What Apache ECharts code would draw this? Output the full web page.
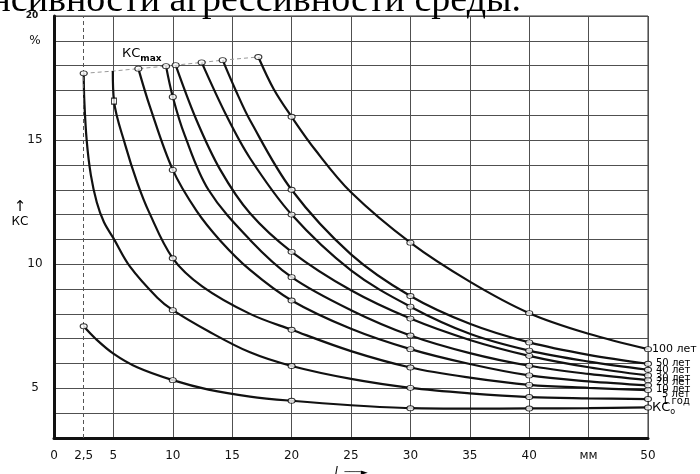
<!DOCTYPE html>
<html><head><meta charset="utf-8">
<script src="https://cdn.jsdelivr.net/npm/echarts@6/dist/echarts.min.js"></script>
<style>html,body{margin:0;padding:0;background:#fff;overflow:hidden}#c{width:700px;height:474px}</style>
</head><body><div id="c"></div>
<script>
// ---- tick labels ----
const xTickValues = [0, 2.5, 5, 10, 15, 20, 25, 30, 35, 40, 45, 50];
const xTickTexts  = ['0', '2,5', '5', '10', '15', '20', '25', '30', '35', '40', 'мм', '50'];
const yTickValues = [5, 10, 15, 19, 20];
const yTickTexts  = ['5', '10', '15', '%', '20'];

// ---- curves: [l (mm), KC (%)] ----
const cKC0 = [[2.5,7.5],[3.5,7.0],[5,6.4],[7,5.85],[10,5.33],[13,4.95],[16.5,4.67],[20,4.5],[25,4.32],[30,4.2],[35,4.18],[40,4.19],[45,4.2],[50,4.23]];
const c1   = [[2.5,17.69],[2.55,16.6],[2.75,15.0],[3.1,13.6],[3.6,12.5],[4.2,11.7],[5,11.05],[6.4,9.9],[8.7,8.65],[10,8.15],[13,7.3],[16.5,6.45],[20,5.9],[25,5.38],[30,5.02],[35,4.8],[40,4.65],[45,4.6],[50,4.57]];
const c5   = [[4.95,17.78],[5.05,16.57],[6,14.8],[7,13.3],[8,12.1],[10,10.24],[12.5,9.1],[16.5,8.0],[20,7.36],[25,6.5],[30,5.84],[35,5.43],[40,5.14],[45,5.02],[50,4.93]];
const c10  = [[7.1,17.88],[8.08,16.34],[10,13.8],[12,12.15],[14,10.95],[16.5,9.77],[20,8.54],[25,7.4],[30,6.58],[35,5.98],[40,5.52],[45,5.28],[50,5.12]];
const c20  = [[9.43,17.98],[10,16.74],[11,15.2],[13,13.0],[16.5,10.98],[20,9.48],[25,8.15],[30,7.13],[35,6.42],[40,5.91],[45,5.58],[50,5.33]];
const c30  = [[10.24,18.02],[12,15.8],[14,13.8],[16.5,12.05],[20,10.5],[25,8.95],[30,7.81],[35,6.95],[40,6.31],[45,5.85],[50,5.52]];
const c40  = [[12.43,18.13],[14.5,16.0],[16.5,14.27],[20,12.0],[25,9.75],[30,8.29],[35,7.2],[40,6.52],[45,6.08],[50,5.75]];
const c50  = [[14.2,18.22],[15.3,17.0],[16.5,15.8],[20,13.0],[25,10.4],[30,8.72],[35,7.6],[40,6.85],[45,6.35],[50,5.99]];
const c100 = [[17.2,18.35],[18.5,17.05],[20,15.94],[22,14.6],[25,12.9],[30,10.87],[35,9.3],[40,8.03],[45,7.2],[50,6.58]];

// ---- x positions of marked points on each curve ----
const mKC0 = [2.5,10,20,30,40,50];
const m1   = [2.5,10,20,30,40,50];
const m5   = [10,20,30,40,50];
const m10  = [7.1,10,20,30,40,50];
const m20  = [9.43,10,20,30,40,50];
const m30  = [10.24,20,30,40,50];
const m40  = [12.43,20,30,40,50];
const m50  = [14.2,20,30,40,50];
const m100 = [17.2,20,30,40,50];
const squareX5 = 5.05;

const curveNames = ['КС0', '1 год', '5 лет', '10 лет', '20 лет', '30 лет', '40 лет', '50 лет', '100 лет'];
const curves = [cKC0, c1, c5, c10, c20, c30, c40, c50, c100];
const marks  = [mKC0, m1, m5, m10, m20, m30, m40, m50, m100];

// layout of end labels (not data)
const labelLayout = [
  {d: 4, dy: 2}, {d: 14, dy: 2}, {d: 14, dy: 4}, {d: 8, dy: 4}, {d: 8, dy: 2},
  {d: 8, dy: 2.5}, {d: 8, dy: 1}, {d: 8, dy: 0}, {d: 4, dy: 0}
];

const SANS = 'DejaVu Sans';
const markerPts = [];
curves.forEach((c, i) => c.forEach(p => { if (marks[i].includes(p[0])) markerPts.push(p); }));
const squarePts = c5.filter(p => p[0] === squareX5);
const kcmaxPts = curves.slice(1).map(c => c[0]).sort((a, b) => a[0] - b[0]);

const series = curves.map((c, i) => ({
  type: 'line', name: curveNames[i], data: c, smooth: 0.35, symbol: 'none', z: 3,
  lineStyle: {color: '#111', width: 2.2},
  endLabel: {
    show: true, distance: labelLayout[i].d, offset: [0, labelLayout[i].dy],
    fontFamily: SANS, fontSize: i === 8 ? 11 : 10, color: '#000',
    formatter: i === 0 ? '{a|КС}{b|о}' : curveNames[i],
    rich: {
      a: {fontFamily: SANS, fontSize: 13, lineHeight: 13, verticalAlign: 'bottom', color: '#000', padding: [0,0,2,0]},
      b: {fontFamily: SANS, fontSize: 8, lineHeight: 8, verticalAlign: 'bottom', color: '#000'}
    }
  }
}));
series.push({
  type: 'line', data: kcmaxPts, symbol: 'none', z: 2, silent: true,
  lineStyle: {color: '#999', width: 1, type: [4, 3]},
  markLine: {silent: true, symbol: 'none', label: {show: false},
    lineStyle: {color: '#555', width: 1, type: [4, 3]}, data: [{xAxis: 2.5}]}
});
series.push({
  type: 'scatter', data: markerPts, symbol: 'circle', symbolSize: [7, 5], z: 6,
  itemStyle: {color: '#fff', borderColor: '#000', borderWidth: 1}
});
series.push({
  type: 'scatter', data: squarePts, symbol: 'rect', symbolSize: [5, 6], z: 6,
  itemStyle: {color: '#fff', borderColor: '#000', borderWidth: 1}
});

const chart = echarts.init(document.getElementById('c'));
chart.setOption({
  animation: false,
  backgroundColor: '#fff',
  grid: {left: 54, right: 52, top: 16, bottom: 36, containLabel: false, outerBoundsMode: 'none',
    show: true, borderColor: '#333', borderWidth: 1},
  xAxis: {
    type: 'value', min: 0, max: 50, interval: 2.5,
    axisLine: {show: true, onZero: false, lineStyle: {color: '#111', width: 3}},
    axisTick: {show: false},
    splitLine: {show: true, lineStyle: {color: ['#505050', 'rgba(0,0,0,0)'], width: 1}},
    axisLabel: {
      margin: 12, fontFamily: SANS, fontSize: 12, color: '#111',
      formatter: v => { const k = xTickValues.indexOf(v); return k >= 0 ? xTickTexts[k] : ''; }
    },
    name: '{l|l}  {a|───►}', nameLocation: 'middle', nameGap: 26,
    nameTextStyle: {rich: {
      l: {fontFamily: SANS, fontStyle: 'italic', fontSize: 12, color: '#000'},
      a: {fontFamily: SANS, fontSize: 9, color: '#000'}
    }}
  },
  yAxis: {
    type: 'value', min: 3, max: 20, interval: 1,
    axisLine: {show: true, lineStyle: {color: '#111', width: 3}},
    axisTick: {show: false},
    splitLine: {show: true, lineStyle: {color: '#505050', width: 1}},
    axisLabel: {
      margin: 19, align: 'center', fontFamily: SANS, fontSize: 12, color: '#111',
      formatter: v => { const k = yTickValues.indexOf(v); if (k < 0) return ''; return v === 20 ? '{s|20}' : yTickTexts[k]; },
      rich: {s: {fontFamily: SANS, fontSize: 9, fontWeight: 'bold', color: '#111', padding: [0, 6, 0, 0]}}
    }
  },
  graphic: [
    {type: 'text', z: 100, style: {text: 'интенсивности агрессивности среды.', x: 521, y: 1,
      align: 'right', verticalAlign: 'middle', font: '38px "Liberation Serif"', fill: '#000'}},
    {type: 'text', z: 100, style: {text: '↑', x: 20, y: 207, align: 'center', verticalAlign: 'middle',
      font: '15px "DejaVu Sans"', fill: '#000'}},
    {type: 'text', z: 100, style: {text: 'КС', x: 20, y: 222, align: 'center', verticalAlign: 'middle',
      font: '12px "DejaVu Sans"', fill: '#000'}},
    {type: 'text', z: 100, style: {text: '{a|КС}{b|max}', x: 122, y: 57, align: 'left', verticalAlign: 'middle',
      rich: {
        a: {fontFamily: SANS, fontSize: 13, lineHeight: 13, verticalAlign: 'bottom', fill: '#000', padding: [0,0,3,0]},
        b: {fontFamily: SANS, fontSize: 9, fontWeight: 'bold', lineHeight: 9, verticalAlign: 'bottom', fill: '#000'}
      }}}
  ],
  series: series
});
</script></body></html>
